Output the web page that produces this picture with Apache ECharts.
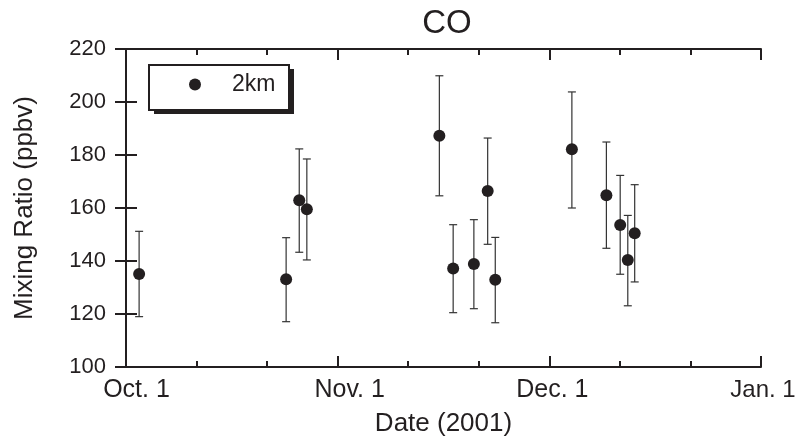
<!DOCTYPE html>
<html><head><meta charset="utf-8">
<script src="https://cdn.jsdelivr.net/npm/echarts@6/dist/echarts.min.js"></script>
<style>html,body{margin:0;padding:0;background:#fff}#c{width:806px;height:446px}</style>
</head><body><div id="c"></div>
<script>
// days since Oct. 1, 2001
const days  = [1.9, 23.2, 25.1, 26.2, 45.4, 47.4, 50.4, 52.4, 53.5, 64.6, 69.6, 71.6, 72.7, 73.7];
const co    = [135.1, 133.1, 162.9, 159.5, 187.3, 137.2, 138.9, 166.4, 132.9, 182.2, 164.8, 153.6, 140.4, 150.5];
const coLow = [119.0, 117.1, 143.3, 140.4, 164.6, 120.5, 122.0, 146.3, 116.7, 160.0, 144.8, 135.0, 123.1, 132.1];
const coHigh= [151.2, 148.8, 182.3, 178.5, 209.9, 153.7, 155.6, 186.4, 148.9, 203.8, 184.9, 172.3, 157.2, 168.8];
const xTickLabels = ['Oct. 1', 'Nov. 1', 'Dec. 1', 'Jan. 1'];
const xSpanDays = 92;
const seriesName = '2km';

const font = 'Liberation Sans, Arial, sans-serif';
const ink = '#231f20';
const chart = echarts.init(document.getElementById('c'), null, {renderer: 'canvas'});
const step = xSpanDays / 3;
const labelStyles = ['l0', 'l1', 'l2', 'l3'];
const rich = {
  l0: {padding: [0, 0, 0, 21], fontSize: 25, fontFamily: font, color: ink},
  l1: {padding: [0, 0, 0, 24], fontSize: 25, fontFamily: font, color: ink},
  l2: {padding: [0, 0, 0, 6], fontSize: 25, fontFamily: font, color: ink},
  l3: {padding: [0, 0, 0, 4], fontSize: 24, fontFamily: font, color: ink}
};
const axisLine = {show: true, lineStyle: {color: ink, width: 2}};
const tickStyle = {color: ink, width: 2};

chart.setOption({
  animation: false,
  backgroundColor: '#fff',
  title: {text: 'CO', left: 442, top: 2, textAlign: 'center',
    textStyle: {fontFamily: font, fontSize: 33, fontWeight: 'normal', color: ink}},
  grid: {left: 126, right: 45, top: 49, bottom: 79, outerBoundsMode: 'none'},
  graphic: [
    {type: 'rect', shape: {x: 154, y: 69, width: 140, height: 45}, style: {fill: ink}, z: 10},
    {type: 'rect', shape: {x: 149, y: 65, width: 140, height: 45}, style: {fill: '#fff', stroke: ink, lineWidth: 2}, z: 11}
  ],
  legend: {
    left: 149, top: 73, orient: 'horizontal', z: 20,
    data: [{name: seriesName, icon: 'circle'}],
    itemWidth: 12, itemHeight: 12,
    padding: [0, 0, 0, 40],
    formatter: n => '{t|' + n + '}',
    textStyle: {rich: {t: {fontFamily: font, fontSize: 23, color: ink, padding: [0, 0, 0, 26]}}}
  },
  xAxis: [{
    type: 'value', min: 0, max: xSpanDays, interval: step,
    axisLine, splitLine: {show: false},
    axisTick: {inside: true, length: 11, lineStyle: tickStyle},
    minorTick: {show: true, splitNumber: 3, length: 6, lineStyle: tickStyle},
    axisLabel: {margin: 11, hideOverlap: false, formatter: v => {const i = Math.round(v / step); return '{' + labelStyles[i] + '|' + xTickLabels[i] + '}';}, rich},
    name: 'Date (2001)', nameLocation: 'middle', nameGap: 44,
    nameTextStyle: {fontFamily: font, fontSize: 26, color: ink}
  }, {
    type: 'value', position: 'top', min: 0, max: xSpanDays, interval: step,
    axisLine, splitLine: {show: false}, axisLabel: {show: false},
    axisTick: {inside: true, length: 11, lineStyle: tickStyle},
    minorTick: {show: true, splitNumber: 3, length: 6, lineStyle: tickStyle}
  }],
  yAxis: [{
    type: 'value', min: 100, max: 220, interval: 20,
    axisLine, splitLine: {show: false},
    axisTick: {inside: true, length: 11, lineStyle: tickStyle},
    axisLabel: {margin: 20, fontFamily: font, fontSize: 22, color: ink},
    name: 'Mixing Ratio (ppbv)', nameLocation: 'middle', nameGap: 88,
    nameTextStyle: {fontFamily: font, fontSize: 26, color: ink}
  }, {
    type: 'value', position: 'right', min: 100, max: 220, interval: 20,
    axisLine, splitLine: {show: false}, axisLabel: {show: false},
    axisTick: {inside: true, length: 11, lineStyle: tickStyle}
  }],
  series: [{
    type: 'custom', name: 'err', silent: true,
    data: days.map((d, i) => [d, coLow[i], coHigh[i]]),
    renderItem: (params, api) => {
      const lo = api.coord([api.value(0), api.value(1)]);
      const hi = api.coord([api.value(0), api.value(2)]);
      const w = 4;
      const st = {stroke: '#333', lineWidth: 1.2};
      return {type: 'group', children: [
        {type: 'line', shape: {x1: lo[0], y1: lo[1], x2: hi[0], y2: hi[1]}, style: st},
        {type: 'line', shape: {x1: lo[0] - w, y1: lo[1], x2: lo[0] + w, y2: lo[1]}, style: st},
        {type: 'line', shape: {x1: hi[0] - w, y1: hi[1], x2: hi[0] + w, y2: hi[1]}, style: st}
      ]};
    },
    z: 1
  }, {
    type: 'scatter', name: seriesName, symbol: 'circle', symbolSize: 12,
    itemStyle: {color: ink, opacity: 1},
    data: days.map((d, i) => [d, co[i]]), z: 2
  }]
});
</script></body></html>
